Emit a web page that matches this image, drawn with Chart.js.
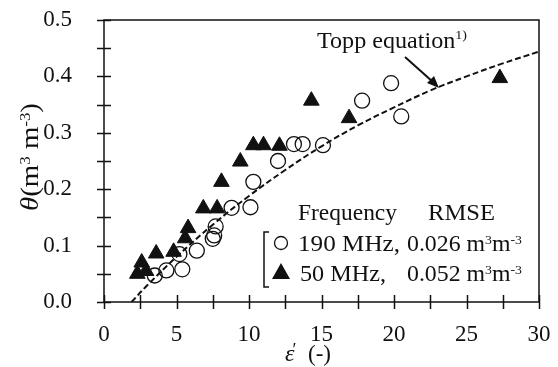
<!DOCTYPE html>
<html>
<head>
<meta charset="utf-8">
<script src="https://cdn.jsdelivr.net/npm/chart.js@4.4.1/dist/chart.umd.min.js"></script>
<style>
  html, body { margin: 0; padding: 0; background: #fff; }
  #wrap { width: 558px; height: 367px; position: relative; }
</style>
</head>
<body>
<div id="wrap"><canvas id="chart"></canvas></div>
<script>
// 50 MHz measurements (filled triangles)
const triX = [2.3, 2.6, 2.9, 3.6, 4.8, 5.6, 5.8, 6.85, 7.8, 8.1, 9.4, 10.3, 11.0, 12.1, 14.3, 16.9, 27.3];
const triY = [0.050, 0.070, 0.055, 0.086, 0.089, 0.113, 0.131, 0.166, 0.166, 0.213, 0.249, 0.278, 0.278, 0.277, 0.357, 0.326, 0.397];

// 190 MHz measurements (open circles)
const circX = [3.5, 4.3, 5.2, 5.4, 6.4, 7.5, 7.6, 7.7, 8.8, 10.1, 10.3, 12.0, 13.1, 13.7, 15.1, 17.8, 19.8, 20.5];
const circY = [0.047, 0.056, 0.085, 0.058, 0.091, 0.112, 0.118, 0.134, 0.167, 0.168, 0.213, 0.250, 0.280, 0.280, 0.278, 0.357, 0.388, 0.329];

// Topp equation curve
const toppX = [1.9, 3, 5, 7.5, 10, 12.5, 15, 17.5, 20, 22.5, 25, 27.5, 30];
const toppY = [0.0, 0.030, 0.080, 0.137, 0.188, 0.234, 0.276, 0.313, 0.345, 0.375, 0.400, 0.423, 0.444];

// axis ranges / ticks
const xMin = 0, xMax = 30, xStep = 2.5, xLabelStep = 5;
const yMin = 0, yMax = 0.5, yStep = 0.05;

const FONT = '"Liberation Serif", "Times New Roman", serif';
const INK = '#111';

const pairs = (xs, ys) => xs.map((x, i) => ({ x: x, y: ys[i] }));

// draw text runs with optional superscripts, returns end x
function drawRuns(ctx, runs, x, y, size) {
  runs.forEach(r => {
    const s = r.sup ? size * 0.58 : size;
    ctx.font = (r.italic ? 'italic ' : '') + s + 'px ' + FONT;
    ctx.fillText(r.t, x, r.sup ? y - size * (r.lift || 0.3) : y);
    x += ctx.measureText(r.t).width;
  });
  return x;
}

// same, but squeezed/stretched horizontally so it spans x0..x1
function drawFit(ctx, runs, x0, x1, y, size) {
  ctx.save();
  const w = drawRuns({ fillText() {}, measureText: t => ctx.measureText(t), set font(f) { ctx.font = f; } }, runs, 0, 0, size);
  ctx.translate(x0, y);
  ctx.scale((x1 - x0) / w, 1);
  drawRuns(ctx, runs, 0, 0, size);
  ctx.restore();
}

const decor = {
  id: 'decor',
  beforeDatasetsDraw(chart) {
    const { ctx, chartArea: a, scales } = chart;
    ctx.save();
    ctx.strokeStyle = INK;
    ctx.lineWidth = 1.5;
    ctx.strokeRect(a.left, a.top, a.right - a.left, a.bottom - a.top);
    // crossing tick marks
    ctx.beginPath();
    for (let v = yMin; v <= yMax + 1e-9; v += yStep) {
      const py = Math.round(scales.y.getPixelForValue(v)) + 0.5;
      ctx.moveTo(a.left - 7, py);
      ctx.lineTo(a.left + 7, py);
    }
    for (let v = xMin; v <= xMax + 1e-9; v += xStep) {
      const px = Math.round(scales.x.getPixelForValue(v)) + 0.5;
      ctx.moveTo(px, a.bottom - 7);
      ctx.lineTo(px, a.bottom + 7);
    }
    ctx.stroke();
    ctx.restore();
  },
  afterDraw(chart) {
    const { ctx } = chart;
    ctx.save();
    ctx.fillStyle = INK;
    ctx.strokeStyle = INK;
    ctx.textBaseline = 'alphabetic';
    ctx.textAlign = 'left';

    // Topp equation label + arrow
    drawFit(ctx, [{ t: 'Topp equation' }, { t: '1)', sup: true, lift: 0.38 }], 317, 467, 48, 23);
    ctx.lineWidth = 2;
    ctx.beginPath();
    ctx.moveTo(405, 57);
    ctx.lineTo(433, 82);
    ctx.stroke();
    ctx.beginPath();
    ctx.moveTo(439, 88);
    ctx.lineTo(427, 83);
    ctx.lineTo(434, 76);
    ctx.closePath();
    ctx.fill();

    // legend block
    const sup3 = [{ t: 'm' }, { t: '3', sup: true }, { t: 'm' }, { t: '-3', sup: true }];
    drawFit(ctx, [{ t: 'Frequency' }], 298, 397, 220, 23);
    drawFit(ctx, [{ t: 'RMSE' }], 428, 495, 220, 23);
    drawFit(ctx, [{ t: '190 MHz,' }], 298, 400, 251, 23);
    drawFit(ctx, [{ t: '0.026 ' }].concat(sup3), 407, 522, 251, 23);
    drawFit(ctx, [{ t: '50 MHz,' }], 300, 386, 281, 23);
    drawFit(ctx, [{ t: '0.052 ' }].concat(sup3), 407, 522, 281, 23);

    // bracket
    ctx.lineWidth = 1.5;
    ctx.beginPath();
    ctx.moveTo(269, 232);
    ctx.lineTo(264, 232);
    ctx.lineTo(264, 287);
    ctx.lineTo(269, 287);
    ctx.stroke();

    // legend markers
    ctx.lineWidth = 1.3;
    ctx.beginPath();
    ctx.arc(281, 243, 6.5, 0, Math.PI * 2);
    ctx.stroke();
    ctx.beginPath();
    ctx.moveTo(281, 263);
    ctx.lineTo(290, 279);
    ctx.lineTo(272, 279);
    ctx.closePath();
    ctx.fill();

    // axis titles
    let ex = drawRuns(ctx, [{ t: '\u03b5', italic: true }], 285, 361, 24);
    ctx.font = '18px ' + FONT;
    ctx.fillText('\u2032', ex - 2, 356);
    drawRuns(ctx, [{ t: '(-)' }], 308, 361, 23);

    ctx.translate(38, 0);
    ctx.rotate(-Math.PI / 2);
    drawFit(ctx, [{ t: '\u03b8', italic: true }, { t: '(m' }, { t: '3', sup: true, lift: 0.33 }, { t: ' m' }, { t: '-3', sup: true, lift: 0.33 }, { t: ')' }], -211, -103, 0, 25);
    ctx.restore();
  }
};

new Chart(document.getElementById('chart'), {
  type: 'scatter',
  data: {
    datasets: [
      {
        label: '50 MHz',
        data: pairs(triX, triY),
        pointStyle: 'triangle',
        pointRadius: 9,
        pointHoverRadius: 9,
        backgroundColor: INK,
        borderColor: INK,
        borderWidth: 1
      },
      {
        label: '190 MHz',
        data: pairs(circX, circY),
        pointStyle: 'circle',
        pointRadius: 7.5,
        pointHoverRadius: 7.5,
        backgroundColor: 'rgba(0,0,0,0)',
        borderColor: INK,
        borderWidth: 1.3
      },
      {
        label: 'Topp equation',
        data: pairs(toppX, toppY),
        showLine: true,
        pointRadius: 0,
        borderColor: INK,
        borderWidth: 2,
        borderDash: [6, 3],
        tension: 0.4,
        fill: false
      }
    ]
  },
  options: {
    responsive: true,
    maintainAspectRatio: false,
    animation: false,
    layout: { padding: { top: 20, right: 19, left: 0, bottom: 0 } },
    plugins: {
      legend: { display: false },
      tooltip: { enabled: false },
      title: { display: false }
    },
    scales: {
      x: {
        type: 'linear',
        min: xMin,
        max: xMax,
        border: { display: false },
        grid: { drawOnChartArea: false, drawTicks: false },
        afterFit: s => { s.height = 65; s.paddingLeft = 0; s.paddingRight = 0; },
        ticks: {
          stepSize: xStep,
          autoSkip: false,
          maxRotation: 0,
          padding: 19,
          color: INK,
          font: { family: FONT, size: 23 },
          callback: v => (Math.round(v * 10) % (xLabelStep * 10) === 0 ? String(v) : '')
        }
      },
      y: {
        type: 'linear',
        min: yMin,
        max: yMax,
        border: { display: false },
        grid: { drawOnChartArea: false, drawTicks: false },
        afterFit: s => { s.width = 104; s.paddingTop = 0; s.paddingBottom = 0; },
        ticks: {
          stepSize: yStep,
          autoSkip: false,
          padding: 32,
          color: INK,
          font: { family: FONT, size: 23 },
          callback: v => (Math.round(v * 100) % 10 === 0 ? v.toFixed(1) : '')
        }
      }
    }
  },
  plugins: [decor]
});
</script>
</body>
</html>
